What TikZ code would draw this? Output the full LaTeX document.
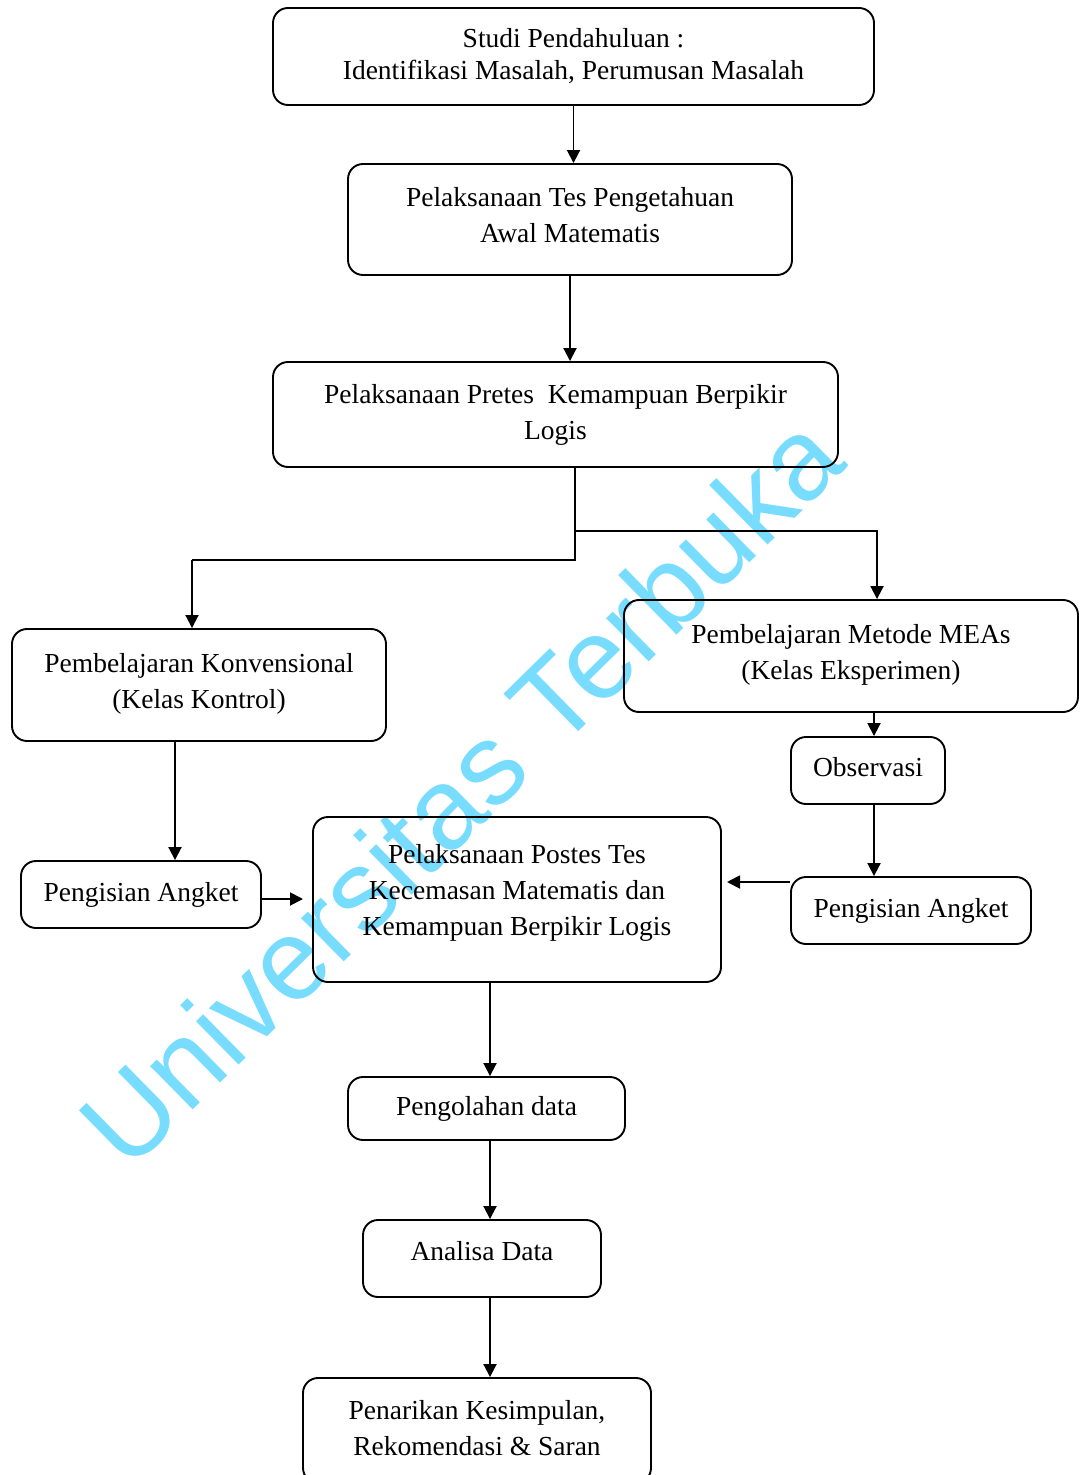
\documentclass[tikz,border=0pt]{standalone}
\usepackage{fontspec}
\setmainfont{Liberation Serif}
\newfontfamily\wmfont{Liberation Sans}
\usetikzlibrary{arrows.meta}

\definecolor{wmblue}{RGB}{120,220,255}
% extra depth below the last line, lifts the text inside its box
\newcommand{\tarik}[1]{\rule[-#1]{0pt}{#1}}

\tikzset{
  box/.style={draw, rounded corners=7.5pt, line width=0.95pt, align=center,
    inner sep=2pt, font=\fontsize{13.75}{18}\selectfont},
  arr/.style={-{Triangle[length=6.5pt,width=6.5pt]}, line width=0.95pt},
  garis/.style={line width=0.95pt},
}

\begin{document}
\begin{tikzpicture}[x=0.5pt, y=-0.5pt]
  \useasboundingbox (0,0) rectangle (1080,1475);

  % watermark
  \node[rotate=44.5, text=wmblue, inner sep=0pt,
        font=\wmfont\fontsize{57.5}{62}\selectfont] (wm) at (460,790) {Universitas Terbuka};

  \node[box, minimum width=300.5pt, minimum height=48.5pt,
        font=\fontsize{13.75}{16}\selectfont] (studi) at (573.5,56.5)
    {Studi Pendahuluan :\\ Identifikasi Masalah, Perumusan Masalah};
  \node[box, minimum width=222pt, minimum height=55.5pt] (tpam) at (570,219.5)
    {Pelaksanaan Tes Pengetahuan\\ Awal Matematis\tarik{5pt}};
  \node[box, minimum width=282.5pt, minimum height=52.5pt] (pretes) at (555.5,414.5)
    {Pelaksanaan Pretes\ \ Kemampuan Berpikir\\ Logis\tarik{1pt}};
  \node[box, minimum width=187pt, minimum height=56pt] (konv) at (199,685)
    {Pembelajaran Konvensional\\ (Kelas Kontrol)\tarik{4pt}};
  \node[box, minimum width=227pt, minimum height=56pt] (meas) at (851,656)
    {Pembelajaran Metode MEAs\\ (Kelas Eksperimen)\tarik{4pt}};
  \node[box, minimum width=77pt, minimum height=33.5pt] (obs) at (868,770.5) {Observasi\tarik{4pt}};
  \node[box, minimum width=120pt, minimum height=33.5pt] (angketA) at (141,894.5) {Pengisian Angket};
  \node[box, minimum width=204pt, minimum height=82.5pt] (postes) at (517,899.5)
    {Pelaksanaan Postes Tes\\ Kecemasan Matematis dan\\ Kemampuan Berpikir Logis\tarik{10pt}};
  \node[box, minimum width=120pt, minimum height=33.5pt] (angketB) at (911,910.5) {Pengisian Angket};
  \node[box, minimum width=138.5pt, minimum height=31.5pt] (olah) at (486.5,1108.5) {Pengolahan data};
  \node[box, minimum width=119pt, minimum height=38.5pt] (analisa) at (482,1258.5) {Analisa Data\tarik{8pt}};
  \node[box, minimum width=174pt, minimum height=52.5pt] (simpul) at (477,1430.5)
    {Penarikan Kesimpulan,\\ Rekomendasi \& Saran\tarik{3pt}};

  \coordinate (cabang) at (575,560);
  \coordinate (garpu) at (575,531);
  \coordinate (kiri) at (192,560);
  \coordinate (kanan) at (877,531);
  \coordinate (jalurA) at (175,0);
  \coordinate (jalurB) at (874,0);
  \coordinate (jalur) at (490,0);
  \coordinate (masukA) at (303,899);
  \coordinate (masukB) at (727,882);

  \draw[arr] (studi.south) -- (studi.south |- tpam.north);
  \draw[arr] (tpam.south) -- (tpam.south |- pretes.north);
  \draw[garis] (pretes.south -| cabang) -- (cabang) -- (kiri);
  \draw[arr] (kiri) -- (kiri |- konv.north);
  \draw[arr] (garpu) -- (kanan) -- (kanan |- meas.north);
  \draw[arr] (konv.south -| jalurA) -- (angketA.north -| jalurA);
  \draw[arr] (meas.south -| jalurB) -- (obs.north -| jalurB);
  \draw[arr] (obs.south -| jalurB) -- (angketB.north -| jalurB);
  \draw[arr] (angketA.east |- masukA) -- (masukA);
  \draw[arr] (angketB.west |- masukB) -- (masukB);
  \draw[arr] (postes.south -| jalur) -- (olah.north -| jalur);
  \draw[arr] (olah.south -| jalur) -- (analisa.north -| jalur);
  \draw[arr] (analisa.south -| jalur) -- (simpul.north -| jalur);
\end{tikzpicture}
\end{document}
